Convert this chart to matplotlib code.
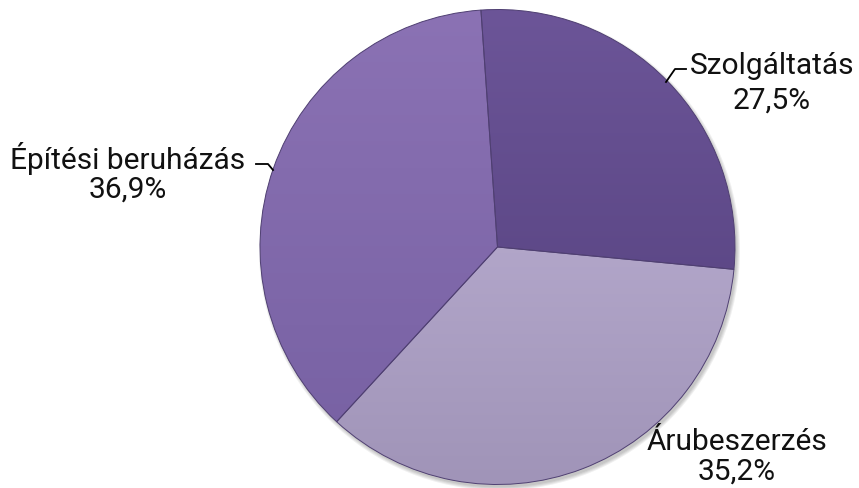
import matplotlib
matplotlib.use("Agg")
import matplotlib.pyplot as plt
import numpy as np
from matplotlib.colors import LinearSegmentedColormap

categories = ["Szolgáltatás", "Árubeszerzés", "Építési beruházás"]
values = [27.5, 35.2, 36.9]
pct_labels = ["27,5%", "35,2%", "36,9%"]
top_colors = ["#6c5598", "#c3b7da", "#8b72b4"]
bottom_colors = ["#513e7a", "#a094b8", "#7660a2"]

W, H = 859, 489
fig = plt.figure(figsize=(W / 100, H / 100), dpi=100)
ax = fig.add_axes([0, 0, 1, 1])

cx, cy, r = 497.5, H - 248, 237.5

# soft shadow
for k in range(4):
    sh = plt.Circle((cx + 2, cy - 3), r + k * 1.0, color="black", alpha=0.06, lw=0, zorder=0)
    ax.add_patch(sh)

wedges, _ = ax.pie(values, startangle=94, counterclock=False, center=(cx, cy), radius=r,
                   colors=top_colors, frame=True,
                   wedgeprops=dict(edgecolor="#4f3f72", linewidth=0.7))
ax.set_xlim(0, W)
ax.set_ylim(0, H)
ax.set_aspect("equal")
ax.axis("off")

yy = np.linspace(1, 0, 256).reshape(-1, 1)
grad = np.repeat(yy, 2, axis=1)
for w, tc, bc in zip(wedges, top_colors, bottom_colors):
    cmap = LinearSegmentedColormap.from_list("g", [bc, tc])
    im = ax.imshow(grad, cmap=cmap, extent=(cx - r, cx + r, cy - r, cy + r),
                   aspect="auto", zorder=1, interpolation="bicubic")
    im.set_clip_path(w)
    w.set_facecolor("none")
    w.set_zorder(2)

font = dict(family=["Roboto", "DejaVu Sans"], fontsize=21.5, color="#111111")
ax.text(772, H - 66, categories[0], ha="center", va="center", **font)
ax.text(772, H - 101, pct_labels[0], ha="center", va="center", **font)
ax.text(737, H - 442, categories[1], ha="center", va="center", **font)
ax.text(737, H - 472, pct_labels[1], ha="center", va="center", **font)
ax.text(128, H - 159, categories[2], ha="center", va="center", **font)
ax.text(128, H - 190, pct_labels[2], ha="center", va="center", **font)

# leader lines
ax.plot([666, 675, 686], [H - 83, H - 70, H - 70], color="black", lw=1.3, zorder=3)
ax.plot([256, 268, 273], [H - 165, H - 165, H - 171], color="black", lw=1.3, zorder=3)

fig.savefig("out.png", dpi=100)
